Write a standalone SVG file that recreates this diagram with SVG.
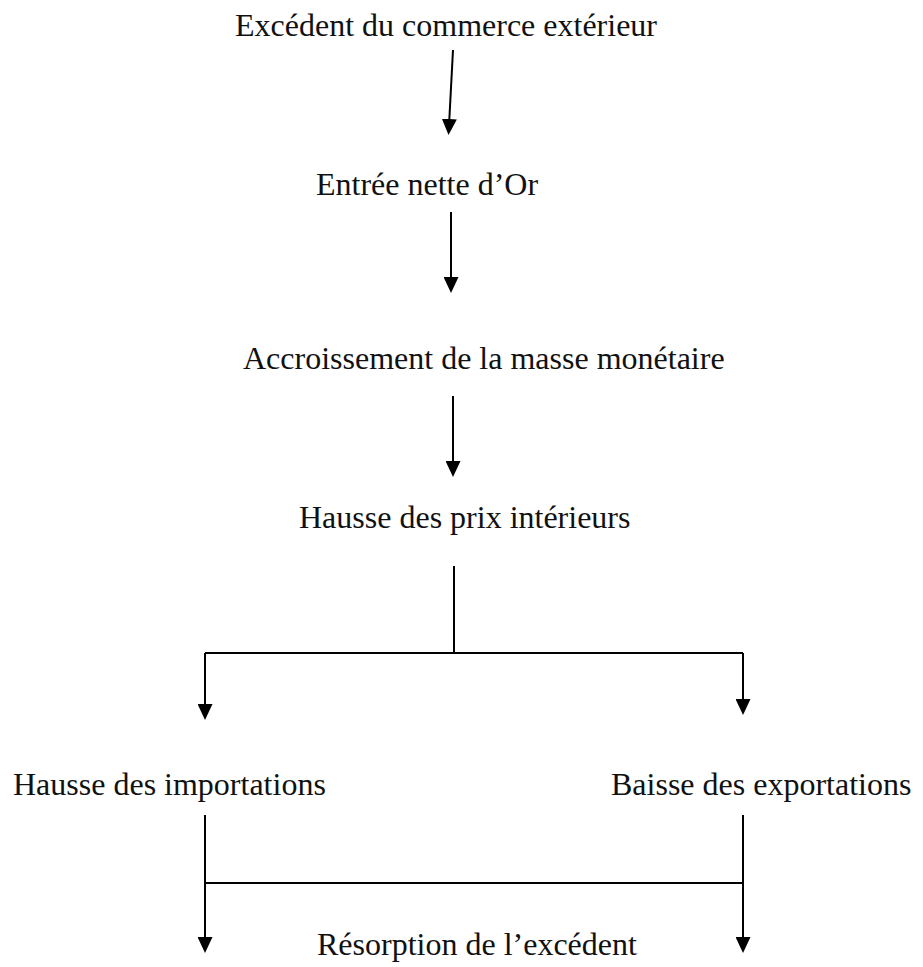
<svg xmlns="http://www.w3.org/2000/svg" width="923" height="967" viewBox="0 0 923 967">
  <style>
    .lbl { font-family: "Liberation Serif", "Times New Roman", serif; font-size: 32px; fill: #111; }
    .wire { fill: none; stroke: #000; stroke-width: 2; }
  </style>
  <defs>
    <marker id="head" markerUnits="userSpaceOnUse" markerWidth="16" markerHeight="15" refX="0" refY="7.5" orient="auto">
      <path d="M0,0 L16,7.5 L0,15 z" fill="#000"/>
    </marker>
  </defs>
  <rect width="923" height="967" fill="#fff"/>

  <g id="n-excedent"><text class="lbl" x="235" y="36">Excédent du commerce extérieur</text></g>
  <g id="n-entree"><text class="lbl" x="316" y="195">Entrée nette d’Or</text></g>
  <g id="n-masse"><text class="lbl" x="243" y="369">Accroissement de la masse monétaire</text></g>
  <g id="n-prix"><text class="lbl" x="299" y="528">Hausse des prix intérieurs</text></g>
  <g id="n-importations"><text class="lbl" x="13" y="795">Hausse des importations</text></g>
  <g id="n-exportations"><text class="lbl" x="611" y="795">Baisse des exportations</text></g>
  <g id="n-resorption"><text class="lbl" x="317" y="955">Résorption de l’excédent</text></g>

  <g id="connectors">
    <path class="wire" d="M453,50 L449.35,119" marker-end="url(#head)"/>
    <path class="wire" d="M451,212 L451,277" marker-end="url(#head)"/>
    <path class="wire" d="M453,396 L453,461" marker-end="url(#head)"/>
    <path class="wire" d="M454,566 V653"/>
    <path class="wire" d="M205,653 H743"/>
    <path class="wire" d="M205,653 V704" marker-end="url(#head)"/>
    <path class="wire" d="M743,653 V699" marker-end="url(#head)"/>
    <path class="wire" d="M205,815 V937" marker-end="url(#head)"/>
    <path class="wire" d="M743,815 V937" marker-end="url(#head)"/>
    <path class="wire" d="M205,883 H743"/>
  </g>
</svg>
